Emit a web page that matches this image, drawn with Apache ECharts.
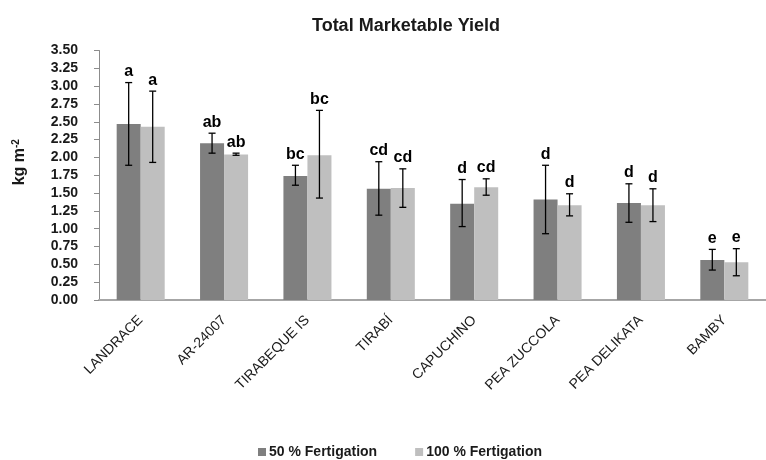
<!DOCTYPE html>
<html>
<head>
<meta charset="utf-8">
<script src="https://cdn.jsdelivr.net/npm/echarts@6/dist/echarts.min.js"></script>
<style>
  html, body { margin: 0; padding: 0; background: #fff; }
  #chart { width: 766px; height: 460px; }
</style>
</head>
<body>
<div id="chart"></div>
<script>
// Pea cultivars and their total marketable yield (kg m-2) under two fertigation levels
const categories = ['LANDRACE', 'AR-24007', 'TIRABEQUE IS', 'TIRABÍ', 'CAPUCHINO', 'PEA ZUCCOLA', 'PEA DELIKATA', 'BAMBY'];

const fert50 = [2.47, 2.20, 1.74, 1.56, 1.35, 1.41, 1.36, 0.56];
const fert50Low = [1.89, 2.06, 1.61, 1.19, 1.03, 0.93, 1.09, 0.42];
const fert50High = [3.05, 2.34, 1.89, 1.94, 1.69, 1.89, 1.63, 0.71];
const letters50 = ['a', 'ab', 'bc', 'cd', 'd', 'd', 'd', 'e'];

const fert100 = [2.43, 2.04, 2.03, 1.57, 1.58, 1.33, 1.33, 0.53];
const fert100Low = [1.93, 2.03, 1.43, 1.30, 1.47, 1.18, 1.10, 0.34];
const fert100High = [2.93, 2.06, 2.66, 1.84, 1.70, 1.49, 1.56, 0.72];
const letters100 = ['a', 'ab', 'bc', 'cd', 'cd', 'd', 'd', 'e'];

const seriesNames = ['50 % Fertigation', '100 % Fertigation'];
const yTicks = { min: 0, max: 3.5, interval: 0.25 };

const DARK = '#7f7f7f';
const LIGHT = '#bfbfbf';
const INK = '#1a1a1a';
const FONT = '"Liberation Sans", Arial, sans-serif';
const BAR_SHARE = 0.576; // fraction of a category taken by both bars

const chart = echarts.init(document.getElementById('chart'), null, { renderer: 'canvas' });

// error bar + significance letter drawn at the centre of a bar
function errorBars(side, low, high, letters) {
  return function (params, api) {
    const i = api.value(0);
    const catW = api.size([1, 0])[0];
    const bw = catW * BAR_SHARE / 2;
    const x = api.coord([i, 0])[0] + side * bw / 2;
    const yTop = api.coord([i, high[i]])[1];
    const yBot = api.coord([i, low[i]])[1];
    const cap = 3.5;
    const line = { stroke: '#000', lineWidth: 1.3 };
    return {
      type: 'group',
      children: [
        { type: 'line', shape: { x1: x, y1: yTop, x2: x, y2: yBot }, style: line },
        { type: 'line', shape: { x1: x - cap, y1: yTop, x2: x + cap, y2: yTop }, style: line },
        { type: 'line', shape: { x1: x - cap, y1: yBot, x2: x + cap, y2: yBot }, style: line },
        {
          type: 'text',
          style: {
            x: x, y: yTop - 3, text: letters[i],
            align: 'center', verticalAlign: 'bottom',
            font: 'bold 16px ' + FONT, fill: '#000'
          }
        }
      ]
    };
  };
}

chart.setOption({
  animation: false,
  backgroundColor: '#ffffff',
  title: {
    text: 'Total Marketable Yield',
    left: 401,
    textAlign: 'center',
    top: 12,
    textStyle: { fontFamily: FONT, fontWeight: 'bold', fontSize: 18, color: INK }
  },
  legend: {
    data: seriesNames,
    left: 258,
    top: 445,
    padding: 0,
    icon: 'rect',
    itemWidth: 8,
    itemHeight: 8,
    itemGap: 38,
    textStyle: { fontFamily: FONT, fontWeight: 'bold', fontSize: 14, color: INK, padding: [0, 0, 0, -2] }
  },
  grid: { left: 99, right: -11, top: 50.5, bottom: 160, containLabel: false },
  xAxis: {
    type: 'category',
    data: categories,
    axisLine: { lineStyle: { color: '#a6a6a6', width: 2 } },
    axisTick: { show: false },
    axisLabel: {
      rotate: 45,
      interval: 0,
      margin: 18,
      fontFamily: FONT,
      fontSize: 14,
      color: INK
    }
  },
  yAxis: {
    type: 'value',
    min: yTicks.min,
    max: yTicks.max,
    interval: yTicks.interval,
    name: '{b|kg m}{s|-2}',
    nameLocation: 'middle',
    nameGap: 70,
    nameRotate: 90,
    nameTextStyle: {
      padding: [0, 0, 0, 26],
      rich: {
        b: { fontFamily: FONT, fontWeight: 'bold', fontSize: 16, color: INK },
        s: { fontFamily: FONT, fontWeight: 'bold', fontSize: 10, color: INK, padding: [0, 0, 8, 0] }
      }
    },
    splitLine: { show: false },
    axisLine: { show: true, lineStyle: { color: '#8c8c8c', width: 1 } },
    axisTick: { show: true, length: 5, lineStyle: { color: '#8c8c8c' } },
    axisLabel: {
      formatter: v => v.toFixed(2),
      margin: 21,
      fontFamily: FONT,
      fontWeight: 'bold',
      fontSize: 14,
      color: INK
    }
  },
  series: [
    {
      name: seriesNames[0],
      type: 'bar',
      data: fert50,
      itemStyle: { color: DARK },
      barGap: '0%',
      barCategoryGap: ((1 - BAR_SHARE) * 100).toFixed(1) + '%'
    },
    {
      name: seriesNames[1],
      type: 'bar',
      data: fert100,
      itemStyle: { color: LIGHT },
      barGap: '0%',
      barCategoryGap: ((1 - BAR_SHARE) * 100).toFixed(1) + '%'
    },
    {
      type: 'custom',
      renderItem: errorBars(-1, fert50Low, fert50High, letters50),
      data: categories.map((c, i) => [i, fert50High[i]]),
      z: 5,
      silent: true
    },
    {
      type: 'custom',
      renderItem: errorBars(1, fert100Low, fert100High, letters100),
      data: categories.map((c, i) => [i, fert100High[i]]),
      z: 5,
      silent: true
    }
  ]
});
</script>
</body>
</html>
